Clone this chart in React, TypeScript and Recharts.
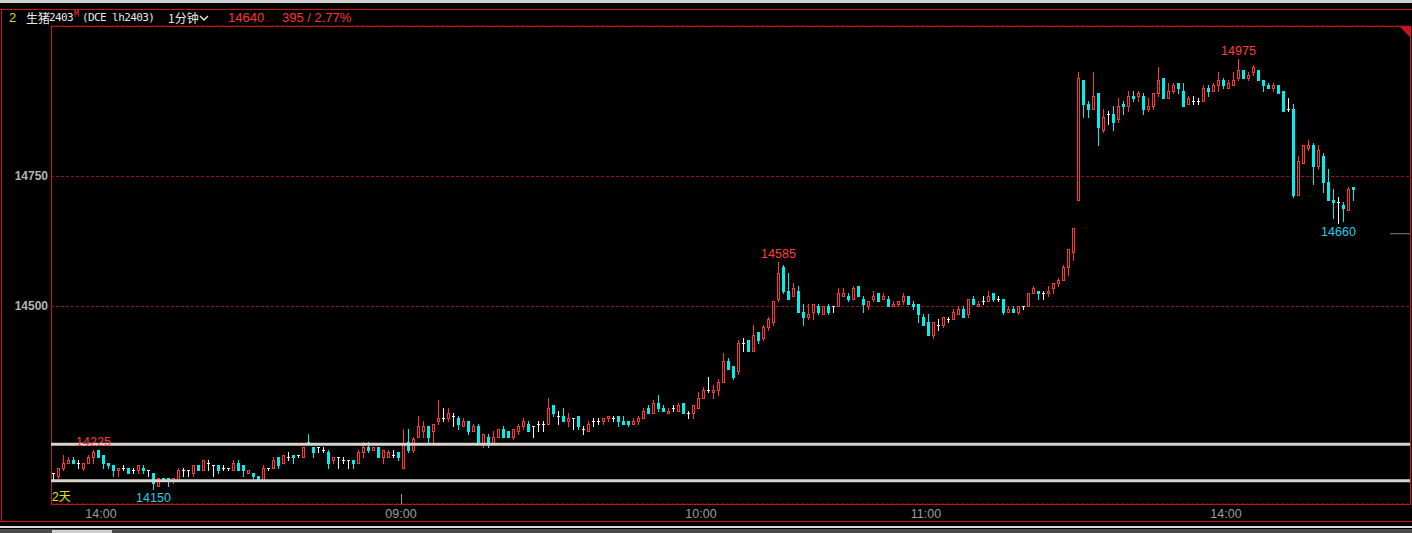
import React from 'react';
import {
  ComposedChart,
  Bar,
  XAxis,
  YAxis,
  CartesianGrid,
  ReferenceLine,
  ReferenceDot,
} from 'recharts';

// one-minute OHLC (yuan / ton)
const opens = [
  14180, 14175, 14190, 14200, 14205, 14200, 14190, 14200, 14210, 14225,
  14215, 14200, 14195, 14185, 14190, 14190, 14185, 14185, 14190, 14185,
  14180, 14155, 14170, 14170, 14165, 14165, 14185, 14185, 14180, 14195,
  14185, 14200, 14195, 14195, 14190, 14190, 14185, 14200, 14195, 14180,
  14180, 14175, 14165, 14190, 14190, 14210, 14200, 14210, 14215, 14215,
  14210, 14240, 14230, 14230, 14225, 14220, 14205, 14210, 14205, 14205,
  14205, 14200, 14220, 14230, 14225, 14230, 14210, 14210, 14215, 14220,
  14190, 14240, 14225, 14250, 14260, 14270, 14260, 14280, 14285, 14285,
  14290, 14285, 14270, 14280, 14260, 14270, 14235, 14250, 14235, 14250,
  14265, 14260, 14250, 14260, 14270, 14275, 14270, 14275, 14275, 14275,
  14310, 14290, 14290, 14280, 14285, 14290, 14265, 14260, 14280, 14280,
  14280, 14285, 14285, 14290, 14280, 14280, 14275, 14280, 14285, 14305,
  14295, 14315, 14305, 14295, 14305, 14300, 14315, 14295, 14295, 14305,
  14325, 14340, 14335, 14340, 14355, 14395, 14385, 14375, 14430, 14435,
  14415, 14450, 14440, 14460, 14470, 14515, 14575, 14530, 14520, 14530,
  14490, 14480, 14490, 14500, 14485, 14500, 14500, 14500, 14520, 14520,
  14515, 14540, 14515, 14500, 14515, 14525, 14515, 14515, 14500, 14505,
  14510, 14520, 14505, 14505, 14480, 14470, 14445, 14465, 14465, 14475,
  14475, 14485, 14495, 14485, 14515, 14500, 14510, 14510, 14525, 14515,
  14515, 14490, 14495, 14490, 14500, 14500, 14525, 14530, 14525, 14525,
  14535, 14545, 14550, 14575, 14605, 14705, 14935, 14890, 14880, 14910,
  14840, 14870, 14870, 14860, 14890, 14885, 14905, 14905, 14905, 14880,
  14885, 14910, 14940, 14900, 14915, 14930, 14915, 14890, 14895, 14895,
  14895, 14920, 14915, 14925, 14935, 14920, 14925, 14940, 14955, 14940,
  14950, 14955, 14935, 14925, 14920, 14925, 14915, 14880, 14880, 14715,
  14775, 14805, 14810, 14770, 14790, 14740, 14705, 14700, 14695, 14685,
  14730,
];
const highs = [
  14180, 14190, 14215, 14210, 14210, 14205, 14200, 14215, 14225, 14225,
  14215, 14200, 14195, 14190, 14195, 14190, 14190, 14195, 14195, 14185,
  14180, 14170, 14170, 14170, 14170, 14190, 14190, 14185, 14195, 14195,
  14205, 14205, 14195, 14195, 14195, 14190, 14205, 14205, 14195, 14185,
  14180, 14175, 14195, 14190, 14210, 14210, 14215, 14220, 14215, 14215,
  14230, 14255, 14230, 14230, 14230, 14225, 14210, 14210, 14210, 14205,
  14205, 14225, 14240, 14240, 14230, 14230, 14225, 14225, 14225, 14220,
  14265, 14265, 14250, 14290, 14280, 14270, 14275, 14320, 14305, 14305,
  14295, 14290, 14285, 14280, 14275, 14275, 14255, 14255, 14260, 14265,
  14270, 14260, 14265, 14275, 14285, 14280, 14270, 14280, 14280, 14325,
  14310, 14300, 14305, 14295, 14285, 14290, 14270, 14280, 14285, 14285,
  14285, 14290, 14290, 14290, 14290, 14280, 14285, 14290, 14305, 14310,
  14320, 14330, 14310, 14305, 14310, 14315, 14315, 14300, 14310, 14335,
  14345, 14365, 14350, 14360, 14410, 14400, 14385, 14435, 14440, 14435,
  14465, 14450, 14465, 14480, 14510, 14585, 14580, 14565, 14545, 14540,
  14505, 14505, 14505, 14505, 14500, 14505, 14500, 14535, 14535, 14525,
  14540, 14540, 14520, 14510, 14530, 14525, 14525, 14520, 14510, 14510,
  14525, 14520, 14510, 14505, 14485, 14485, 14470, 14475, 14480, 14480,
  14495, 14500, 14500, 14515, 14520, 14510, 14520, 14530, 14525, 14520,
  14515, 14500, 14500, 14500, 14500, 14525, 14540, 14530, 14530, 14540,
  14545, 14555, 14580, 14610, 14650, 14950, 14935, 14895, 14950, 14910,
  14880, 14875, 14885, 14900, 14895, 14915, 14915, 14915, 14910, 14900,
  14910, 14960, 14940, 14930, 14930, 14930, 14930, 14905, 14905, 14900,
  14925, 14925, 14930, 14950, 14940, 14935, 14950, 14975, 14955, 14950,
  14965, 14955, 14935, 14930, 14930, 14925, 14915, 14900, 14890, 14790,
  14810, 14820, 14815, 14810, 14795, 14765, 14725, 14710, 14700, 14730,
  14730,
];
const lows = [
  14165, 14170, 14185, 14200, 14200, 14190, 14185, 14200, 14200, 14210,
  14190, 14190, 14175, 14175, 14185, 14180, 14180, 14180, 14180, 14175,
  14150, 14155, 14165, 14155, 14160, 14165, 14175, 14175, 14175, 14185,
  14185, 14185, 14175, 14180, 14185, 14185, 14185, 14185, 14175, 14180,
  14170, 14165, 14165, 14185, 14190, 14190, 14200, 14205, 14200, 14210,
  14210, 14235, 14210, 14220, 14220, 14190, 14200, 14190, 14200, 14190,
  14190, 14200, 14210, 14220, 14225, 14210, 14200, 14210, 14210, 14205,
  14190, 14220, 14220, 14250, 14250, 14235, 14235, 14275, 14280, 14280,
  14270, 14265, 14270, 14255, 14260, 14240, 14230, 14230, 14235, 14250,
  14250, 14250, 14245, 14255, 14265, 14260, 14250, 14260, 14260, 14275,
  14290, 14275, 14280, 14270, 14265, 14265, 14255, 14260, 14270, 14275,
  14275, 14280, 14280, 14270, 14275, 14270, 14275, 14275, 14285, 14295,
  14295, 14300, 14300, 14295, 14300, 14300, 14295, 14285, 14285, 14305,
  14325, 14335, 14325, 14330, 14355, 14380, 14360, 14370, 14415, 14415,
  14415, 14430, 14435, 14455, 14465, 14510, 14525, 14515, 14520, 14490,
  14465, 14475, 14475, 14485, 14485, 14485, 14490, 14500, 14520, 14510,
  14515, 14520, 14490, 14495, 14510, 14510, 14515, 14500, 14500, 14500,
  14505, 14505, 14495, 14470, 14465, 14445, 14440, 14455, 14460, 14470,
  14475, 14485, 14480, 14480, 14505, 14500, 14505, 14510, 14510, 14510,
  14485, 14490, 14490, 14485, 14495, 14500, 14525, 14515, 14515, 14520,
  14525, 14540, 14550, 14560, 14590, 14705, 14865, 14865, 14880, 14810,
  14835, 14850, 14840, 14855, 14870, 14875, 14895, 14895, 14870, 14875,
  14880, 14905, 14900, 14900, 14910, 14910, 14885, 14890, 14890, 14890,
  14895, 14905, 14915, 14915, 14920, 14920, 14925, 14935, 14940, 14935,
  14945, 14935, 14915, 14920, 14915, 14910, 14875, 14875, 14710, 14715,
  14775, 14800, 14735, 14765, 14720, 14705, 14670, 14660, 14665, 14685,
  14705,
];
const closes = [
  14180, 14190, 14200, 14205, 14200, 14200, 14200, 14210, 14220, 14210,
  14200, 14195, 14185, 14190, 14190, 14180, 14185, 14195, 14185, 14185,
  14160, 14170, 14165, 14165, 14170, 14185, 14185, 14185, 14195, 14185,
  14205, 14200, 14195, 14185, 14190, 14190, 14200, 14185, 14185, 14185,
  14175, 14165, 14190, 14190, 14205, 14195, 14215, 14210, 14210, 14215,
  14230, 14235, 14220, 14230, 14225, 14200, 14210, 14210, 14205, 14205,
  14200, 14220, 14230, 14225, 14230, 14210, 14225, 14220, 14215, 14210,
  14235, 14225, 14245, 14270, 14270, 14250, 14275, 14285, 14285, 14295,
  14290, 14275, 14280, 14260, 14270, 14240, 14255, 14235, 14250, 14265,
  14250, 14250, 14265, 14270, 14280, 14260, 14270, 14275, 14275, 14305,
  14295, 14290, 14280, 14285, 14285, 14270, 14265, 14275, 14280, 14280,
  14285, 14290, 14285, 14280, 14275, 14275, 14280, 14285, 14300, 14295,
  14315, 14305, 14300, 14300, 14305, 14310, 14295, 14295, 14310, 14325,
  14340, 14340, 14340, 14355, 14395, 14380, 14365, 14430, 14430, 14415,
  14445, 14435, 14460, 14475, 14510, 14565, 14530, 14515, 14535, 14490,
  14480, 14485, 14505, 14490, 14500, 14490, 14500, 14525, 14525, 14515,
  14535, 14520, 14505, 14510, 14520, 14510, 14520, 14500, 14505, 14510,
  14520, 14505, 14500, 14485, 14465, 14445, 14470, 14465, 14480, 14475,
  14490, 14495, 14480, 14515, 14505, 14505, 14510, 14520, 14515, 14515,
  14490, 14495, 14490, 14500, 14500, 14525, 14535, 14525, 14525, 14530,
  14545, 14550, 14575, 14610, 14650, 14940, 14890, 14880, 14905, 14845,
  14865, 14870, 14855, 14885, 14885, 14905, 14900, 14910, 14880, 14885,
  14910, 14935, 14900, 14915, 14925, 14920, 14885, 14900, 14895, 14895,
  14920, 14915, 14925, 14935, 14925, 14930, 14935, 14955, 14940, 14945,
  14960, 14935, 14925, 14920, 14925, 14910, 14875, 14880, 14715, 14780,
  14810, 14810, 14770, 14800, 14740, 14705, 14700, 14700, 14690, 14725,
  14725,
];

// trading sessions shown: [hour, minute, number of 1-minute bars]
const sessions: Array<[number, number, number]> = [
  [13, 50, 70],
  [9, 0, 75],
  [10, 30, 60],
  [13, 30, 56],
];
const axisTimes = ['14:00', '09:00', '10:00', '11:00', '14:00'];
const priceTicks = [14500, 14750];
const drawnLevels = [14235, 14165];
const highMarks = [8, 145, 237];
const lowMarks = [20, 257];
const lastPrice = 14640;
const changeText = '395 / 2.77%';

const pad = (n: number) => String(n).padStart(2, '0');
const times = sessions.flatMap(([h, m, n]) =>
  Array.from({ length: n }, (_, k) => {
    const t = h * 60 + m + k;
    return `${pad(Math.floor(t / 60))}:${pad(t % 60)}`;
  })
);
let from = 0;
const tickIdx = axisTimes.map((t) => {
  const k = times.indexOf(t, from);
  from = k + 1;
  return k;
});

const data = opens.map((o, i) => ({
  i,
  t: times[i],
  o,
  h: highs[i],
  l: lows[i],
  c: closes[i],
  range: [lows[i], highs[i]],
}));

const RED = '#ff3434';
const CYAN = '#00f0f0';
const DOJI = '#f2f2f2';
const FRAME = '#c8161c';
const FONT = '"Liberation Sans", Arial, sans-serif';
const MONO = '"DejaVu Sans Mono", monospace';

function Candle(props: any) {
  const { x, y, width, height, payload } = props;
  if (!payload || x == null) return null;
  const { o, h, l, c } = payload;
  const top = Math.min(y, y + height);
  const span = Math.abs(height);
  const py = (p: number) => Math.round(top + (h === l ? 0 : ((h - p) / (h - l)) * span));
  const cx = Math.floor(x + width / 2);
  const color = c > o ? RED : c < o ? CYAN : DOJI;
  const yH = py(h);
  const yL = py(l);
  const bTop = py(Math.max(o, c));
  const bBot = py(Math.min(o, c));
  return (
    <g shapeRendering="crispEdges">
      <rect x={cx} y={yH} width={1} height={yL - yH + 1} fill={color} />
      <rect x={cx - 1} y={bTop} width={3} height={c === o ? 1 : bBot - bTop + 1} fill={color} />
      {c > o && bBot - bTop >= 2 && (
        <rect x={cx} y={bTop + 1} width={1} height={bBot - bTop - 1} fill="#000" />
      )}
    </g>
  );
}

function TimeTick({ x, y, index }: any) {
  const k = tickIdx[index];
  const dayStart = k > 0 && times[k] < times[k - 1];
  return (
    <g>
      {dayStart && (
        <line x1={x} x2={x} y1={y - 10} y2={y} stroke="#9a9a9a" shapeRendering="crispEdges" />
      )}
      <text x={x} y={y + 10} textAnchor="middle" dominantBaseline="central" fill="#9c9c9c" fontSize={12.5} fontFamily={FONT}>
        {axisTimes[index]}
      </text>
    </g>
  );
}

function PriceTick({ x, y, payload }: any) {
  return (
    <text x={x} y={y} textAnchor="end" dominantBaseline="central" fill="#b4b4b4" fontSize={12} fontWeight="bold" fontFamily={FONT}>
      {payload.value}
    </text>
  );
}

const markLabel = (above: boolean) => (p: any) => (
  <text
    x={p.cx}
    y={above ? p.cy - 8 : p.cy + 9}
    textAnchor="middle"
    dominantBaseline="central"
    fill={above ? '#ff3c3c' : '#22d0ea'}
    fontSize={12.5}
    fontFamily={FONT}
  >
    {above ? highs[p.idx] : lows[p.idx]}
  </text>
);

const abs = (style: React.CSSProperties): React.CSSProperties => ({ position: 'absolute', ...style });

export default function App() {
  return (
    <div style={{ position: 'fixed', left: 0, top: 0, width: 1412, height: 533, background: '#000', overflow: 'hidden', fontFamily: FONT }}>
      <div style={abs({ left: 0, top: 0, width: 1412, height: 3, background: '#cfcfcf' })} />
      <div style={abs({ left: 0, top: 9, width: 1412, height: 1, background: FRAME })} />
      <div style={abs({ left: 1, top: 9, width: 1, height: 513, background: FRAME })} />
      <div style={abs({ left: 51, top: 26, width: 1360, height: 479, border: `1px solid ${FRAME}`, boxSizing: 'border-box' })} />
      <div style={abs({ left: 0, top: 521, width: 1412, height: 1, background: FRAME })} />
      <div style={abs({ left: 0, top: 526, width: 1412, height: 2, background: '#dcdcdc' })} />
      <div style={abs({ left: 0, top: 529, width: 1412, height: 4, background: '#4a4a4a' })} />
      <div style={abs({ left: 52, top: 530, width: 60, height: 3, background: '#d0d0d0' })} />

      {/* header */}
      <div style={abs({ left: 0, top: 10, height: 16, width: 420, fontSize: 12, lineHeight: '16px', color: '#e8e8e8' })}>
        <span style={abs({ left: 9, top: 0, color: '#d6d62a', fontSize: 13 })}>2</span>
        <span style={abs({ left: 26, top: 0, fontFamily: '"Noto Sans CJK SC"' })}>生猪</span>
        <span style={abs({ left: 49, top: 0, fontFamily: MONO, fontSize: 11, letterSpacing: -0.6 })}>2403</span>
        <span style={abs({ left: 74, top: -3, color: RED, fontFamily: MONO, fontSize: 8 })}>M</span>
        <span style={abs({ left: 82, top: 0, fontFamily: MONO, fontSize: 11, letterSpacing: -0.6 })}>(DCE lh2403)</span>
        <span style={abs({ left: 168, top: 0, fontFamily: '"Noto Sans CJK SC"' })}>1分钟</span>
        <svg style={abs({ left: 199, top: 5 })} width={10} height={6}>
          <polyline points="1,1 5,5 9,1" fill="none" stroke="#e8e8e8" strokeWidth={1.4} />
        </svg>
        <span style={abs({ left: 228, top: 0, color: RED, fontSize: 13 })}>{lastPrice}</span>
        <span style={abs({ left: 282, top: 0, color: RED, fontSize: 13 })}>{changeText}</span>
      </div>

      <svg style={abs({ left: 1400, top: 27 })} width={10} height={10}>
        <polygon points="0,0 10,0 10,10" fill={FRAME} />
      </svg>

      <div style={abs({ left: 52, top: 487, color: '#e6e600', fontSize: 12 })}>
        2<span style={{ fontFamily: '"Noto Sans CJK SC"' }}>天</span>
      </div>

      <div style={abs({ left: 0, top: 0 })}>
        <ComposedChart width={1412} height={533} data={data} margin={{ top: 26, right: 2, bottom: 12, left: 0 }}>
          <CartesianGrid horizontal vertical={false} stroke="#a01212" strokeDasharray="3 2" />
          <XAxis
            type="number"
            dataKey="i"
            domain={[-0.5, 271.3]}
            ticks={tickIdx.map((k) => k - 0.5)}
            interval={0}
            height={17}
            axisLine={false}
            tickLine={false}
            tickSize={0}
            tickMargin={0}
            tick={(p: any) => <TimeTick {...p} />}
          />
          <YAxis
            domain={[14120.2, 15039.4]}
            ticks={priceTicks}
            allowDataOverflow
            width={51}
            axisLine={false}
            tickLine={false}
            tickSize={0}
            tickMargin={3}
            tick={(p: any) => <PriceTick {...p} />}
          />
          <Bar dataKey="range" barSize={5} shape={(p: any) => <Candle {...p} />} isAnimationActive={false} />
          {highMarks.map((k) => (
            <ReferenceDot key={`h${k}`} x={k} y={highs[k]} r={1} shape={(p: any) => markLabel(true)({ ...p, idx: k })} />
          ))}
          {lowMarks.map((k) => (
            <ReferenceDot key={`l${k}`} x={k} y={lows[k]} r={1} shape={(p: any) => markLabel(false)({ ...p, idx: k })} />
          ))}
          {drawnLevels.map((v) => (
            <ReferenceLine key={v} y={v} stroke="#d8d4cc" strokeWidth={3} />
          ))}
          <ReferenceLine
            segment={[
              { x: 267.3, y: lastPrice },
              { x: 271.3, y: lastPrice },
            ]}
            stroke="#808080"
          />
        </ComposedChart>
      </div>
    </div>
  );
}
